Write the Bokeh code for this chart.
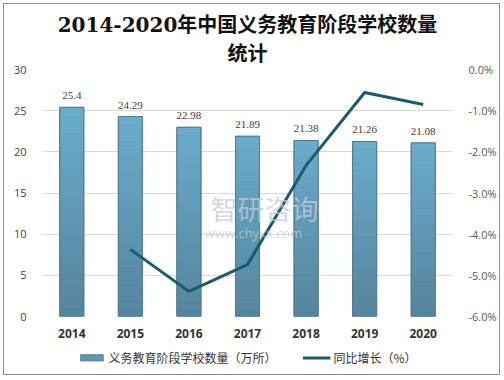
from bokeh.plotting import figure
from bokeh.models import (ColumnDataSource, Range1d, LinearAxis, FixedTicker,
                          Legend, LegendItem, Title, Label, FactorRange)
from bokeh.layouts import column
from bokeh.embed import file_html
from bokeh.resources import INLINE

years = ["2014", "2015", "2016", "2017", "2018", "2019", "2020"]
schools = [25.4, 24.29, 22.98, 21.89, 21.38, 21.26, 21.08]
growth_years = ["2015", "2016", "2017", "2018", "2019", "2020"]
growth = [-4.37, -5.39, -4.74, -2.33, -0.56, -0.85]
left_ticks = [0, 5, 10, 15, 20, 25, 30]
right_ticks = [-6, -5, -4, -3, -2, -1, 0]
legend_labels = ["义务教育阶段学校数量（万所）", "同比增长（%）"]

BAR_W = 0.41
TOP_C = (0x6b, 0xad, 0xcd)
BOT_C = (0x55, 0x85, 0x9b)
BAR_MID = "#5f98b4"
BAR_EDGE = "#4f7c92"
LINE_C = "#195b70"
W = 495
NAN = float("nan")

p = figure(width=W, height=336, x_range=FactorRange(*years), y_range=Range1d(0, 30),
           output_backend="svg", toolbar_location=None,
           min_border_left=38, min_border_right=46, min_border_top=65, min_border_bottom=4)
p.outline_line_color = None
p.background_fill_color = "white"
p.border_fill_color = "white"

TFONT = "DejaVu Serif, Noto Sans CJK SC"
p.title.text = "2014-2020年中国义务教育阶段学校数量"
p.title.align = "center"
p.title.text_font = TFONT
p.title.text_font_size = "20px"
p.title.text_font_style = "bold"
p.title.text_color = "#111111"
p.title.standoff = 0
t2 = Title(text="统计", align="center", text_font=TFONT, text_font_size="20px",
           text_font_style="bold", text_color="#111111", standoff=7)
p.add_layout(t2, "above")

src = ColumnDataSource(dict(x=years, top=schools, lbl=[f"{v:g}" for v in schools]))
p.vbar(x="x", top="top", width=BAR_W, source=src, fill_color=BAR_MID, line_color=BAR_EDGE)

# gradient slices derived from bar values
N = 24
sx, sb, st, sc = [], [], [], []
for y, v in zip(years, schools):
    for k in range(N):
        f = (k + 0.5) / N
        c = tuple(int(BOT_C[i] + (TOP_C[i] - BOT_C[i]) * f) for i in range(3))
        sx.append(y); sb.append(v * k / N); st.append(v * (k + 1) / N)
        sc.append("#%02x%02x%02x" % c)
p.vbar(x=sx, bottom=sb, top=st, width=BAR_W, fill_color=sc, line_color=None)
p.vbar(x="x", top="top", width=BAR_W, source=src, fill_color=None,
       line_color=BAR_EDGE, line_width=1)

p.text(x="x", y="top", text="lbl", source=src, text_align="center", text_baseline="bottom",
       y_offset=-8, text_font_size="11px", text_color="#404040", text_font="Open Sans")

p.yaxis[0].ticker = FixedTicker(ticks=left_ticks)

p.extra_y_ranges = {"pct": Range1d(-6, 0)}
p.line(x=growth_years, y=growth, y_range_name="pct", line_color=LINE_C, line_width=3)

ra = LinearAxis(y_range_name="pct", ticker=FixedTicker(ticks=right_ticks),
                major_label_overrides={t: f"{t:.1f}%" for t in right_ticks})
p.add_layout(ra, "right")

for ax in p.yaxis:
    ax.axis_line_color = None
    ax.major_tick_line_color = None
    ax.minor_tick_line_color = None
    ax.major_label_text_font_size = "11px"
    ax.major_label_text_font = "Open Sans"
    ax.major_label_standoff = 10
p.yaxis[0].major_label_text_color = "#404040"
ra.major_label_text_color = "#595959"

xa = p.xaxis[0]
xa.axis_line_color = None
xa.major_tick_line_color = None
xa.major_label_text_font_size = "12px"
xa.major_label_text_font_style = "bold"
xa.major_label_text_font = "Open Sans"
xa.major_label_text_color = "#333333"
xa.major_label_standoff = 6

p.xgrid.grid_line_color = None
p.ygrid.grid_line_color = "#d9d9d9"

# watermark
p.add_layout(Label(x=222, y=108, x_units="screen", y_units="screen", text="智研咨询",
                   text_font="Noto Sans CJK SC", text_font_size="27px", text_color="#c2ccd6",
                   text_align="center", text_baseline="middle", text_alpha=0.75))
p.add_layout(Label(x=211, y=84, x_units="screen", y_units="screen", text="www.chyxx.com",
                   text_font="Open Sans", text_font_size="13px", text_color="#c2ccd6",
                   text_align="center", text_baseline="middle", text_alpha=0.75))

# legend strip (placeholder glyphs hold no visible data)
leg = figure(width=W, height=34, x_range=Range1d(0, 1), y_range=Range1d(0, 1),
             output_backend="svg", toolbar_location=None, min_border=0,
             x_axis_location=None, y_axis_location=None)
leg.grid.visible = False
leg.outline_line_color = None
lb = leg.vbar(x=[NAN], top=[NAN], width=0.1, fill_color=BAR_MID, line_color=BAR_EDGE)
ll = leg.line(x=[NAN, NAN], y=[NAN, NAN], line_color=LINE_C, line_width=3)
legend = Legend(items=[LegendItem(label=legend_labels[0], renderers=[lb]),
                       LegendItem(label=legend_labels[1], renderers=[ll])],
                orientation="horizontal", location="center",
                label_text_font="Noto Sans CJK SC", label_text_font_size="12px",
                label_text_color="#333333", glyph_width=28, glyph_height=8,
                spacing=26, border_line_color=None, background_fill_alpha=0,
                padding=0, margin=0, label_standoff=3)
leg.add_layout(legend, "center")

root = column(p, leg, spacing=0,
              styles={"border": "1px solid #8c8c8c", "margin": "3px 0 0 3px"})
open("out.html", "w").write(file_html(root, INLINE))
